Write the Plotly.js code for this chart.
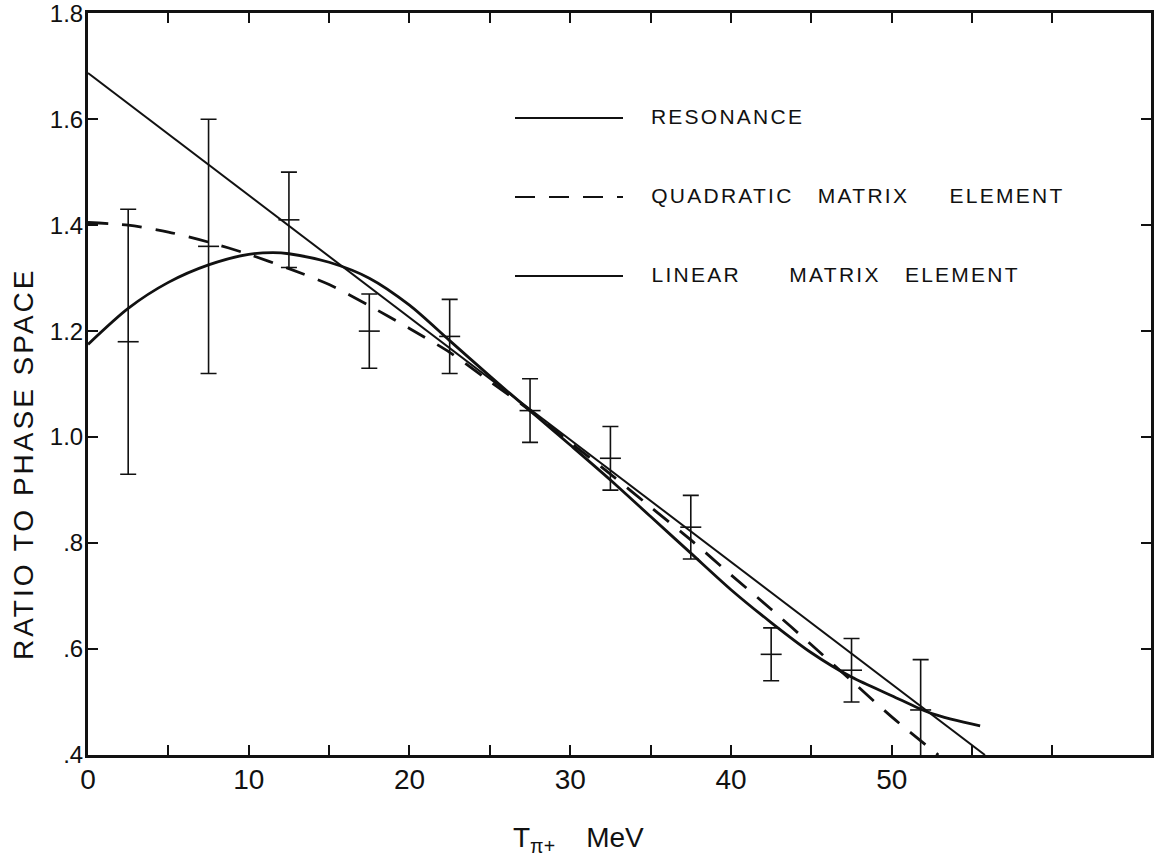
<!DOCTYPE html>
<html>
<head>
<meta charset="utf-8">
<script src="https://cdn.plot.ly/plotly-3.0.1.min.js"></script>
<style>
  html, body { margin: 0; padding: 0; background: #fff; }
  #chart { width: 1156px; height: 857px; }
  g.annotation[data-index="0"] .annotation-text { letter-spacing: 3px; }
  g.annotation[data-index="1"] .annotation-text,
  g.annotation[data-index="2"] .annotation-text,
  g.annotation[data-index="3"] .annotation-text { letter-spacing: 2.25px; }
</style>
</head>
<body>
<div id="chart"></div>
<script>
// ---- data ----
// measured ratio to phase space, with errors
const binT      = [2.5, 7.5, 12.5, 17.5, 22.5, 27.5, 32.5, 37.5, 42.5, 47.5, 51.8];
const ratio     = [1.18, 1.36, 1.41, 1.20, 1.19, 1.05, 0.96, 0.83, 0.59, 0.56, 0.485];
const ratioErr  = [0.25, 0.24, 0.09, 0.07, 0.07, 0.06, 0.06, 0.06, 0.05, 0.06, 0.095];

// resonance curve (solid, curved)
const resT = [0, 2.5, 5, 7.5, 10, 11.5, 12.5, 15, 17.5, 20, 22.5, 25, 27.5, 30, 32.5, 35, 37.5, 40, 42.5, 45, 47.5, 50, 52.5, 55.5];
const resY = [1.175, 1.243, 1.292, 1.325, 1.345, 1.348, 1.346, 1.330, 1.300, 1.249, 1.182, 1.115, 1.050, 0.985, 0.919, 0.850, 0.781, 0.712, 0.650, 0.593, 0.547, 0.512, 0.478, 0.455];

// quadratic matrix element (dashed)
const quadT = [0, 2.5, 5, 7.5, 10, 12.5, 15, 17.5, 20, 22.5, 25, 27.5, 30, 32.5, 35, 37.5, 40, 42.5, 45, 47.5, 50, 52.9];
const quadY = [1.405, 1.400, 1.387, 1.368, 1.345, 1.318, 1.288, 1.248, 1.205, 1.160, 1.105, 1.050, 0.990, 0.930, 0.868, 0.806, 0.740, 0.675, 0.608, 0.540, 0.472, 0.400];

// linear matrix element (solid, straight)
const linT = [0, 55.8];
const linY = [1.687, 0.400];

// axis ticks and labels
const xTickVals = [0, 5, 10, 15, 20, 25, 30, 35, 40, 45, 50, 55, 60];
const xTickText = ['0', '', '10', '', '20', '', '30', '', '40', '', '50', '', ''];
const yTickVals = [0.4, 0.6, 0.8, 1.0, 1.2, 1.4, 1.6, 1.8];
const yTickText = ['.4', '.6', '.8', '1.0', '1.2', '1.4', '1.6', '1.8'];

const NB = n => '\u00a0'.repeat(n);
const legendNames = ['RESONANCE',
  'QUADRATIC' + NB(3) + 'MATRIX' + NB(5) + 'ELEMENT',
  'LINEAR' + NB(6) + 'MATRIX' + NB(3) + 'ELEMENT'];
const yTitle = 'RATIO TO PHASE SPACE';
const xTitle = 'T<sub>\u03c0+</sub>' + NB(4) + 'MeV';

// ---- drawing ----
const INK = '#111';
const FONT = 'Liberation Sans, Arial, sans-serif';
const DASH = '20px,14px';
const LEG_SPACING = 2.25;

const traces = [
  { x: linT, y: linY, mode: 'lines', name: 'LINEAR MATRIX ELEMENT',
    line: { color: INK, width: 2 }, hoverinfo: 'skip' },
  { x: resT, y: resY, mode: 'lines', name: 'RESONANCE',
    line: { color: INK, width: 2.8, shape: 'spline', smoothing: 0.8 }, hoverinfo: 'skip' },
  { x: quadT, y: quadY, mode: 'lines', name: 'QUADRATIC MATRIX ELEMENT',
    line: { color: INK, width: 2.8, dash: DASH, shape: 'spline', smoothing: 0.8 }, hoverinfo: 'skip' },
  { x: binT, y: ratio, mode: 'markers', name: 'data',
    marker: { symbol: 'line-ew', size: 15, color: INK, line: { color: INK, width: 1.6 } },
    error_y: { type: 'data', array: ratioErr, visible: true, color: INK, thickness: 1.6, width: 8 } }
];

// plot area in pixels: left 88, right 1151, top 13, bottom 755
const W = 1063, H = 742;
const px = v => (v - 88) / W;
const py = v => (755 - v) / H;

const legY = [py(118), py(197), py(276)];
const legDash = ['solid', DASH, 'solid'];

const shapes = legY.map((y, i) => ({
  type: 'line', xref: 'paper', yref: 'paper',
  x0: px(515), x1: px(623), y0: y, y1: y,
  line: { color: INK, width: 2.2, dash: legDash[i] }
}));

const annotations = [
  { text: yTitle, xref: 'paper', yref: 'paper', x: px(23), y: py(464),
    textangle: -90, showarrow: false, xanchor: 'center', yanchor: 'middle',
    font: { family: FONT, size: 28, color: INK } }
].concat(legendNames.map((t, i) => ({
  // letter-spacing widens the text symmetrically about its centre; shift to keep the left edge
  text: t, xref: 'paper', yref: 'paper', x: px(649 + t.length * LEG_SPACING / 2), y: legY[i] + 0.002,
  showarrow: false, xanchor: 'left', yanchor: 'middle',
  font: { family: FONT, size: 21, color: INK }
}))).concat([
  { text: xTitle, xref: 'paper', yref: 'paper', x: px(578), y: py(839),
    showarrow: false, xanchor: 'center', yanchor: 'middle',
    font: { family: FONT, size: 28, color: INK } }
]);

const axisCommon = {
  showgrid: false, zeroline: false, showline: true, linecolor: INK, linewidth: 3,
  mirror: 'ticks', ticks: 'inside', tickcolor: INK, tickwidth: 2, ticklen: 10,
  tickmode: 'array', fixedrange: true, ticklabeloverflow: 'allow'
};

const layout = {
  width: 1156, height: 857,
  margin: { l: 88, r: 5, t: 13, b: 102, pad: 0 },
  paper_bgcolor: '#fff', plot_bgcolor: '#fff',
  showlegend: false,
  xaxis: Object.assign({}, axisCommon, {
    range: [0, 66.13], tickvals: xTickVals, ticktext: xTickText,
    tickfont: { family: FONT, size: 28, color: INK }, ticklabelstandoff: -3
  }),
  yaxis: Object.assign({}, axisCommon, {
    range: [0.4, 1.8004], tickvals: yTickVals, ticktext: yTickText,
    tickfont: { family: FONT, size: 24, color: INK }, ticklabelstandoff: -3
  }),
  shapes: shapes,
  annotations: annotations
};

Plotly.newPlot('chart', traces, layout, { displayModeBar: false, staticPlot: true });
</script>
</body>
</html>
